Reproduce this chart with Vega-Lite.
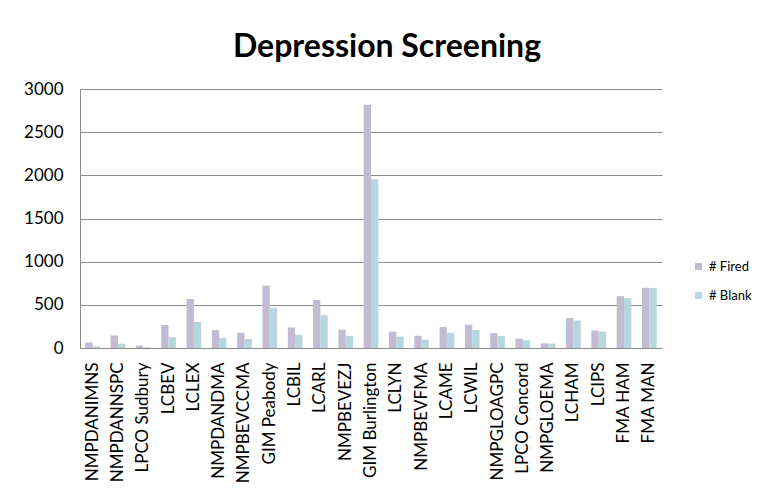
{
  "$schema": "https://vega.github.io/schema/vega-lite/v6.json",
  "width": 582,
  "height": 259,
  "autosize": {"type": "none"},
  "padding": {"left": 80, "top": 89, "right": 111, "bottom": 150},
  "background": "white",
  "title": {"text": "Depression Screening", "font": "Lato", "fontSize": 32, "fontWeight": "bold", "color": "black", "anchor": "middle", "dx": 16, "offset": 16},
  "data": {"values": [
    {"site": "NMPDANIMNS", "series": "# Fired", "value": 63},
    {"site": "NMPDANIMNS", "series": "# Blank", "value": 20},
    {"site": "NMPDANNSPC", "series": "# Fired", "value": 145},
    {"site": "NMPDANNSPC", "series": "# Blank", "value": 51},
    {"site": "LPCO Sudbury", "series": "# Fired", "value": 27},
    {"site": "LPCO Sudbury", "series": "# Blank", "value": 8},
    {"site": "LCBEV", "series": "# Fired", "value": 266},
    {"site": "LCBEV", "series": "# Blank", "value": 125},
    {"site": "LCLEX", "series": "# Fired", "value": 568},
    {"site": "LCLEX", "series": "# Blank", "value": 302},
    {"site": "NMPDANDMA", "series": "# Fired", "value": 207},
    {"site": "NMPDANDMA", "series": "# Blank", "value": 117},
    {"site": "NMPBEVCCMA", "series": "# Fired", "value": 176},
    {"site": "NMPBEVCCMA", "series": "# Blank", "value": 105},
    {"site": "GIM Peabody", "series": "# Fired", "value": 722},
    {"site": "GIM Peabody", "series": "# Blank", "value": 466},
    {"site": "LCBIL", "series": "# Fired", "value": 238},
    {"site": "LCBIL", "series": "# Blank", "value": 152},
    {"site": "LCARL", "series": "# Fired", "value": 556},
    {"site": "LCARL", "series": "# Blank", "value": 380},
    {"site": "NMPBEVEZJ", "series": "# Fired", "value": 212},
    {"site": "NMPBEVEZJ", "series": "# Blank", "value": 142},
    {"site": "GIM Burlington", "series": "# Fired", "value": 2819},
    {"site": "GIM Burlington", "series": "# Blank", "value": 1956},
    {"site": "LCLYN", "series": "# Fired", "value": 189},
    {"site": "LCLYN", "series": "# Blank", "value": 131},
    {"site": "NMPBEVFMA", "series": "# Fired", "value": 142},
    {"site": "NMPBEVFMA", "series": "# Blank", "value": 96},
    {"site": "LCAME", "series": "# Fired", "value": 243},
    {"site": "LCAME", "series": "# Blank", "value": 177},
    {"site": "LCWIL", "series": "# Fired", "value": 270},
    {"site": "LCWIL", "series": "# Blank", "value": 208},
    {"site": "NMPGLOAGPC", "series": "# Fired", "value": 173},
    {"site": "NMPGLOAGPC", "series": "# Blank", "value": 139},
    {"site": "LPCO Concord", "series": "# Fired", "value": 108},
    {"site": "LPCO Concord", "series": "# Blank", "value": 89},
    {"site": "NMPGLOEMA", "series": "# Fired", "value": 54},
    {"site": "NMPGLOEMA", "series": "# Blank", "value": 50},
    {"site": "LCHAM", "series": "# Fired", "value": 349},
    {"site": "LCHAM", "series": "# Blank", "value": 318},
    {"site": "LCIPS", "series": "# Fired", "value": 202},
    {"site": "LCIPS", "series": "# Blank", "value": 190},
    {"site": "FMA HAM", "series": "# Fired", "value": 601},
    {"site": "FMA HAM", "series": "# Blank", "value": 578},
    {"site": "FMA MAN", "series": "# Fired", "value": 698},
    {"site": "FMA MAN", "series": "# Blank", "value": 694}
  ]},
  "mark": {"type": "bar"},
  "encoding": {
    "x": {
      "field": "site", "type": "nominal", "sort": null,
      "scale": {"paddingInner": 0.42, "paddingOuter": 0.21},
      "axis": {"title": null, "labelAngle": -90, "ticks": false, "labelPadding": 14, "labelFont": "Lato", "labelFontSize": 17, "labelColor": "black", "domainColor": "#8c8c8c", "domainWidth": 1, "grid": false}
    },
    "xOffset": {"field": "series", "type": "nominal", "sort": ["# Fired", "# Blank"], "scale": {"paddingInner": 0, "paddingOuter": 0}},
    "y": {
      "field": "value", "type": "quantitative",
      "scale": {"domain": [0, 3000], "nice": false},
      "axis": {"title": null, "values": [0, 500, 1000, 1500, 2000, 2500, 3000], "format": "d", "ticks": false, "labelPadding": 17, "labelFont": "Lato", "labelFontSize": 17, "labelColor": "black", "domainColor": "#8c8c8c", "grid": true, "gridColor": "#8c8c8c", "gridWidth": 1}
    },
    "color": {
      "field": "series", "type": "nominal", "sort": ["# Fired", "# Blank"],
      "scale": {"range": ["#c3bbd4", "#b6d6e0"]},
      "legend": {"title": null, "orient": "none", "legendX": 612, "legendY": 171, "symbolType": "square", "symbolSize": 49, "symbolStrokeWidth": 0, "labelFont": "Lato", "labelFontSize": 13, "labelColor": "black", "rowPadding": 15, "labelOffset": 4}
    }
  },
  "config": {"view": {"stroke": null}}
}
